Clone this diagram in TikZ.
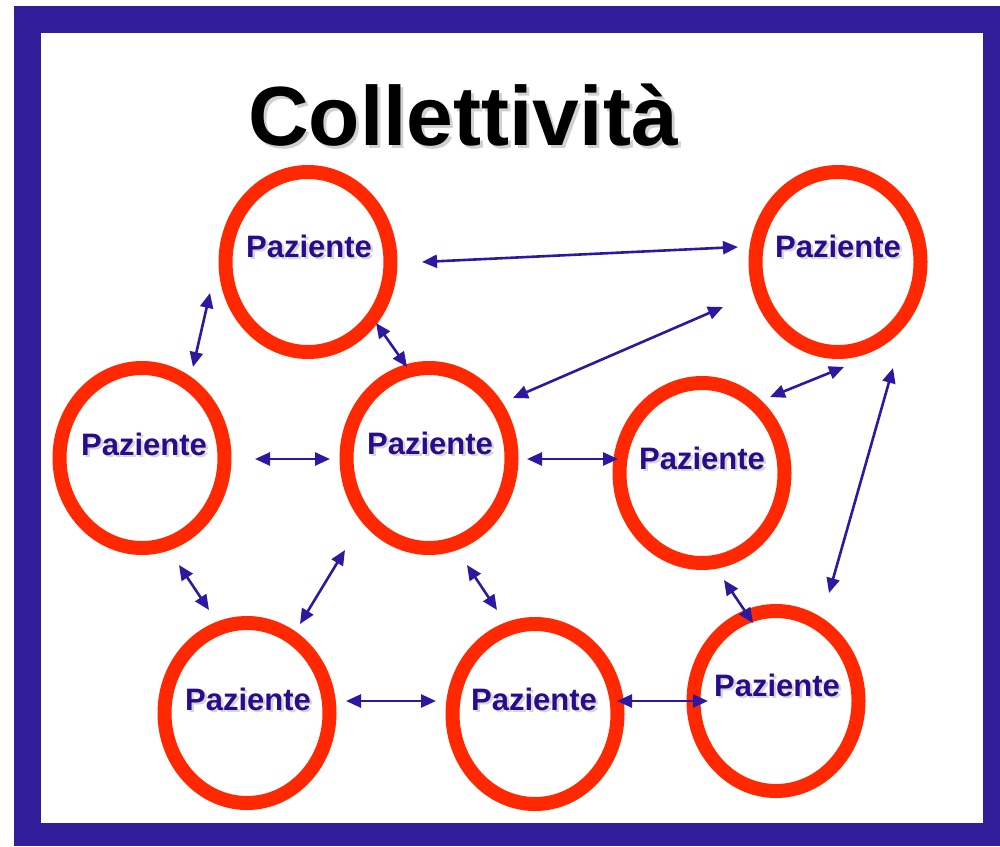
\documentclass[tikz,border=0pt]{standalone}
\usepackage{fontspec}
\setmainfont{Liberation Sans}
\usetikzlibrary{arrows.meta,shapes.geometric}
\definecolor{framecol}{RGB}{50,30,155}
\definecolor{ringred}{RGB}{255,40,0}
\definecolor{txtblue}{RGB}{40,12,140}
\definecolor{arrblue}{RGB}{45,25,160}
\tikzset{
  ring/.style={draw=ringred, line width=14pt, ellipse, minimum width=165pt, minimum height=180pt, inner sep=0pt},
  lbl/.style={anchor=base, text=txtblue, font=\bfseries\fontsize{31}{36}\selectfont, inner sep=0pt},
  lblshadow/.style={anchor=base, text=black, opacity=0.16, font=\bfseries\fontsize{31}{36}\selectfont, inner sep=0pt},
  link/.style={draw=arrblue, line width=2.6pt, {Triangle[length=15pt,width=13pt]}-{Triangle[length=15pt,width=13pt]}},
}
\begin{document}
\begin{tikzpicture}[x=1pt,y=-1pt]
\useasboundingbox (0,0) rectangle (1000,846);
\fill[white] (0,0) rectangle (1000,846);
\fill[framecol] (14,6) rectangle (1000,846);
\fill[white] (41,33) rectangle (983,823);
% title with soft shadow
\node[anchor=base, text=black, opacity=0.18, font=\bfseries\fontsize{84}{96}\selectfont, inner sep=0pt] (titles) at (466,148) {Collettività};
\node[anchor=base, text=black, font=\bfseries\fontsize{84}{96}\selectfont, inner sep=0pt] (title) at (463,145) {Collettività};
% rings
\node[ring] (tl) at (308,262) {};
\node[ring] (tr) at (838,262) {};
\node[ring] (ml) at (142,458) {};
\node[ring] (c)  at (429,458) {};
\node[ring] (rm) at (702,473) {};
\node[ring] (bl) at (247,713) {};
\node[ring] (bc) at (535,714) {};
\node[ring] (br) at (776,701) {};
% labels with soft shadow
\foreach \n/\x/\y in {tl/309/257, tr/838/257, ml/144/455, c/430/454, rm/702/469, bl/248/710, bc/534/710, br/777/696}{
  \node[lblshadow] (s\n) at (\x+2.5,\y+2.5) {Paziente};
  \node[lbl] (l\n) at (\x,\y) {Paziente};
}
% connector end points
\coordinate (a1s) at (422,262); \coordinate (a1e) at (738,247);
\coordinate (a2s) at (210,293); \coordinate (a2e) at (193,367);
\coordinate (a3s) at (376,323); \coordinate (a3e) at (407,367);
\coordinate (a4s) at (513,398); \coordinate (a4e) at (723,307);
\coordinate (a5s) at (255,459); \coordinate (a5e) at (330,459);
\coordinate (a6s) at (527,459); \coordinate (a6e) at (618,459);
\coordinate (a7s) at (770,397); \coordinate (a7e) at (844,367);
\coordinate (a8s) at (893,368); \coordinate (a8e) at (829,593);
\coordinate (a9s) at (179,565); \coordinate (a9e) at (209,610);
\coordinate (a10s) at (345,550); \coordinate (a10e) at (300,624);
\coordinate (a11s) at (467,565); \coordinate (a11e) at (497,610);
\coordinate (a12s) at (724,580); \coordinate (a12e) at (753,623);
\coordinate (a13s) at (346,701); \coordinate (a13e) at (436,701);
\coordinate (a14s) at (617,701); \coordinate (a14e) at (708,701);
\foreach \i in {1,...,14}{
  \draw[link] (a\i s) -- (a\i e);
}
\end{tikzpicture}
\end{document}
